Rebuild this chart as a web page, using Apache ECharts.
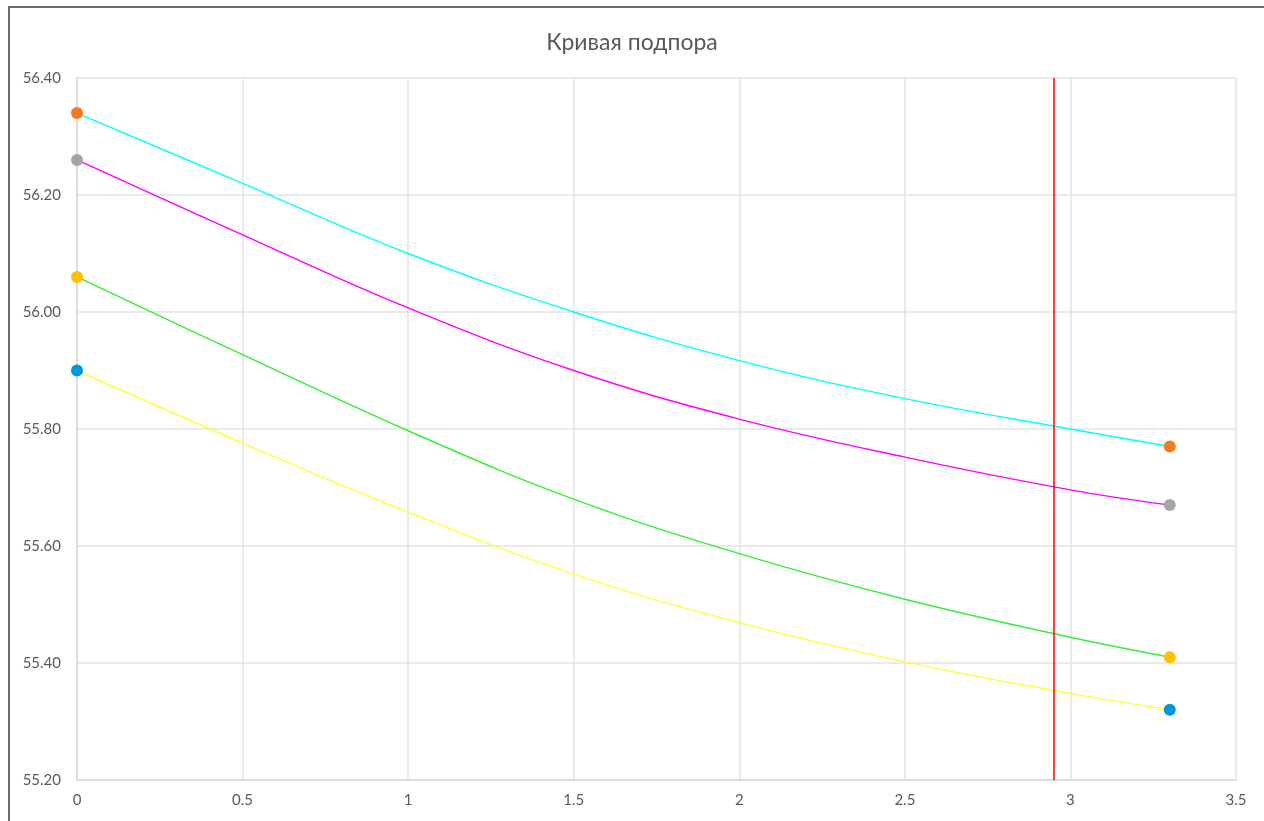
<!DOCTYPE html>
<html>
<head>
<meta charset="utf-8">
<title>Кривая подпора</title>
<script src="https://cdn.jsdelivr.net/npm/echarts@6/dist/echarts.min.js"></script>
<style>
    html, body { margin: 0; padding: 0; background: #fff; }
    #chart { width: 1264px; height: 821px; }
</style>
</head>
<body>
<div id="chart"></div>
<script>
// расстояние по оси X
const xValues = [0, 0.5, 1, 1.5, 2, 2.5, 3, 3.3];
// отметки уровня для четырёх кривых
const curve1 = [56.34, 56.22, 56.10, 56.00, 55.917, 55.852, 55.80, 55.77];
const curve2 = [56.26, 56.132, 56.007, 55.90, 55.817, 55.752, 55.696, 55.67];
const curve3 = [56.06, 55.927, 55.797, 55.68, 55.587, 55.509, 55.444, 55.41];
const curve4 = [55.90, 55.776, 55.658, 55.552, 55.469, 55.402, 55.348, 55.32];
// точки на концах кривых (начало / конец)
const endX = [0, 3.3];
const ends1 = [56.34, 55.77];
const ends2 = [56.26, 55.67];
const ends3 = [56.06, 55.41];
const ends4 = [55.90, 55.32];
// красная вертикальная линия
const markX = 2.947;

const lineColors = ['#00ffff', '#ff00ff', '#33ee33', '#ffff33'];
const dotColors = ['#f57a1f', '#a5a5a5', '#ffc000', '#0098d8'];

function pairs(xs, ys) {
    return xs.map((x, i) => [x, ys[i]]);
}

function lineSeries(ys, color) {
    return {
        type: 'line',
        data: pairs(xValues, ys),
        smooth: 0.4,
        showSymbol: false,
        symbol: 'none',
        lineStyle: { color: color, width: 1.4 },
        z: 2
    };
}

function dotSeries(ys, color) {
    return {
        type: 'scatter',
        data: pairs(endX, ys),
        symbolSize: 12,
        itemStyle: { color: color, opacity: 1 },
        z: 3
    };
}

let chart = echarts.init(document.getElementById('chart'));
let option = {
    animation: false,
    backgroundColor: '#fff',
    title: {
        text: 'Кривая подпора',
        left: 'center',
        top: 26,
        textStyle: { fontFamily: 'Lato', fontSize: 23, fontWeight: 'normal', color: '#595959' }
    },
    grid: { left: 77, right: 28, top: 78, bottom: 41 },
    xAxis: {
        type: 'value',
        min: 0,
        max: 3.5,
        interval: 0.5,
        axisLine: { lineStyle: { color: '#d9d9d9', width: 1.5 } },
        axisTick: { show: false },
        axisLabel: { color: '#595959', fontFamily: 'Lato', fontSize: 15, margin: 13 },
        splitLine: { lineStyle: { color: '#e3e3e3', width: 1.5 } }
    },
    yAxis: {
        type: 'value',
        min: 55.2,
        max: 56.4,
        interval: 0.2,
        axisLine: { show: true, lineStyle: { color: '#d9d9d9', width: 1.5 } },
        axisTick: { show: false },
        axisLabel: {
            color: '#595959', fontFamily: 'Lato', fontSize: 15, margin: 16,
            formatter: v => v.toFixed(2)
        },
        splitLine: { lineStyle: { color: '#e3e3e3', width: 1.5 } }
    },
    graphic: [
        {
            // рамка документа
            type: 'rect',
            shape: { x: 9, y: 7, width: 1400, height: 1000 },
            style: { fill: null, stroke: '#6a6a6a', lineWidth: 2 },
            silent: true
        }
    ],
    series: [
        lineSeries(curve1, lineColors[0]),
        lineSeries(curve2, lineColors[1]),
        lineSeries(curve3, lineColors[2]),
        lineSeries(curve4, lineColors[3]),
        dotSeries(ends1, dotColors[0]),
        dotSeries(ends2, dotColors[1]),
        dotSeries(ends3, dotColors[2]),
        dotSeries(ends4, dotColors[3]),
        {
            type: 'line',
            data: [],
            markLine: {
                silent: true,
                symbol: ['none', 'none'],
                label: { show: false },
                lineStyle: { color: '#ff0000', width: 1.5, type: 'solid' },
                data: [{ xAxis: markX }]
            }
        }
    ]
};
option && chart.setOption(option);
</script>
</body>
</html>
